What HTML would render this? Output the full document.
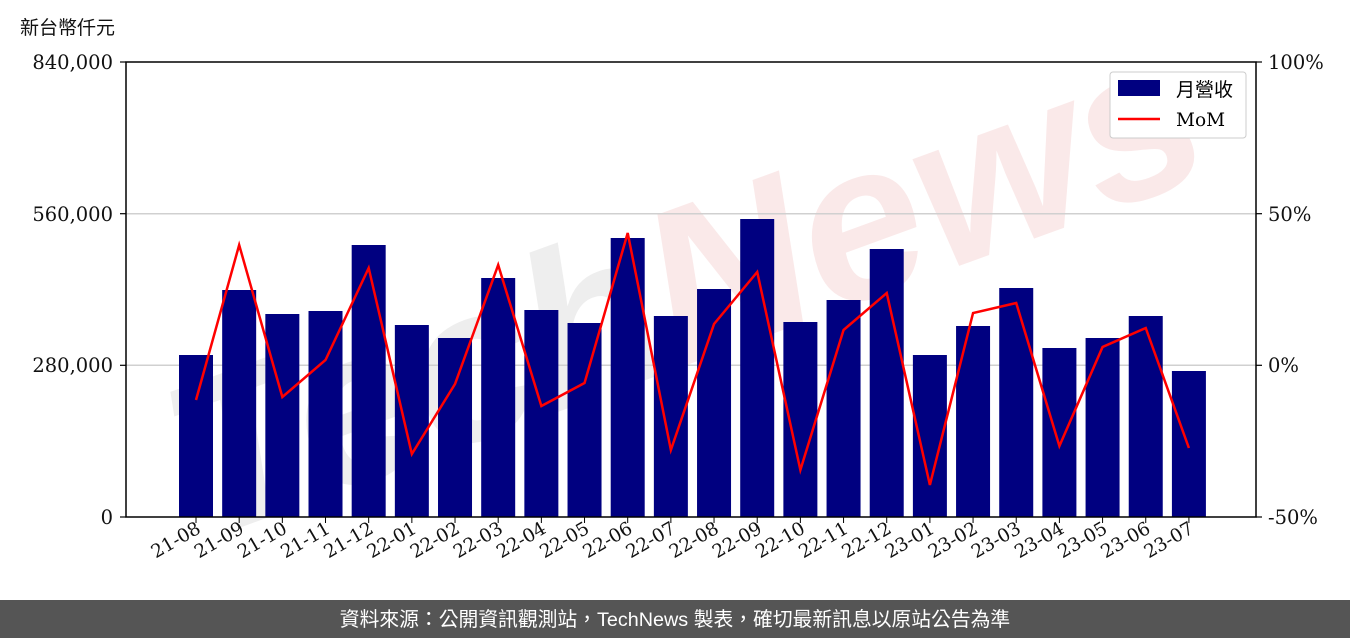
<!DOCTYPE html>
<html><head><meta charset="utf-8"><style>
body{margin:0;width:1350px;height:638px;background:#fff;overflow:hidden;font-family:"DejaVu Serif","Noto Serif CJK SC",serif;}
</style></head><body>
<svg width="1350" height="638" xmlns="http://www.w3.org/2000/svg" style="position:absolute;left:0;top:0">
<text x="20" y="34" font-size="19" font-family="Liberation Sans,Noto Sans CJK TC,sans-serif" fill="#111">新台幣仟元</text>
<g transform="translate(690,300) rotate(-20)" opacity="0.3">
<text x="0" y="60" text-anchor="middle" font-size="220" font-weight="bold" font-family="Liberation Sans,sans-serif" font-style="italic"><tspan fill="#c8c8c8">Tech</tspan><tspan fill="#f0b8b8">News</tspan></text>
</g>
<line x1="126" y1="213.7" x2="1256" y2="213.7" stroke="#d0d0d0" stroke-width="1.5"/>
<line x1="126" y1="365.3" x2="1256" y2="365.3" stroke="#d0d0d0" stroke-width="1.5"/>
<g fill="#000080" id="bars"></g>
<polyline id="mom" fill="none" stroke="#ff0000" stroke-width="2.5" points=""/>
<rect x="126" y="62" width="1130" height="455" fill="none" stroke="#000" stroke-width="1.5"/>
<g font-size="19.5" fill="#111" text-anchor="end">
<text x="113" y="69">840,000</text><text x="113" y="221">560,000</text><text x="113" y="372">280,000</text><text x="113" y="524">0</text>
</g>
<g stroke="#000" stroke-width="1.2">
<line x1="120" y1="62" x2="126" y2="62"/><line x1="120" y1="213.7" x2="126" y2="213.7"/><line x1="120" y1="365.3" x2="126" y2="365.3"/><line x1="120" y1="517" x2="126" y2="517"/>
<line x1="1256" y1="62" x2="1262" y2="62"/><line x1="1256" y1="213.7" x2="1262" y2="213.7"/><line x1="1256" y1="365.3" x2="1262" y2="365.3"/><line x1="1256" y1="517" x2="1262" y2="517"/>
</g>
<g font-size="19.5" fill="#111">
<text x="1268" y="69">100%</text><text x="1268" y="221">50%</text><text x="1268" y="372">0%</text><text x="1268" y="524">-50%</text>
</g>
<g id="xt" font-size="18.5" fill="#111"></g>
<rect x="1110" y="72" width="136" height="66" fill="#fff" stroke="#ccc" rx="3"/>
<rect x="1118" y="80" width="42" height="16" fill="#000080"/>
<text x="1176" y="96" font-size="19" font-family="Liberation Serif,Noto Sans CJK TC,serif">月營收</text>
<line x1="1118" y1="119" x2="1160" y2="119" stroke="#f00" stroke-width="2.5"/>
<text x="1176" y="126" font-size="18.5">MoM</text>
<rect x="0" y="600" width="1350" height="38" fill="#555"/>
<text x="675" y="626" text-anchor="middle" font-size="19.8" fill="#fff" font-family="Liberation Sans,Noto Sans CJK TC,sans-serif">資料來源：公開資訊觀測站，TechNews 製表，確切最新訊息以原站公告為準</text>
</svg>
<script>
var labels=["21-08","21-09","21-10","21-11","21-12","22-01","22-02","22-03","22-04","22-05","22-06","22-07","22-08","22-09","22-10","22-11","22-12","23-01","23-02","23-03","23-04","23-05","23-06","23-07"];
var tops=[355,290,314,311,245,325,338,278,310,323,238,316,289,219,322,300,249,355,326,288,348,338,316,371];
var mom=[400,245,397,360,268,454,384,265,406,383,233,450,324,272,470,330,293,485,313,303,446,347,328,448];
var ns="http://www.w3.org/2000/svg",b=document.getElementById("bars"),xt=document.getElementById("xt"),pts=[];
labels.forEach(function(l,i){var c=196+i*43.17;
var r=document.createElementNS(ns,"rect");r.setAttribute("x",c-17);r.setAttribute("y",tops[i]);r.setAttribute("width",34);r.setAttribute("height",517-tops[i]);b.appendChild(r);
pts.push(c+","+mom[i]);
var t=document.createElementNS(ns,"line");t.setAttribute("x1",c);t.setAttribute("x2",c);t.setAttribute("y1",517);t.setAttribute("y2",523);t.setAttribute("stroke","#000");xt.appendChild(t);
var tx=document.createElementNS(ns,"text");tx.setAttribute("text-anchor","end");tx.setAttribute("transform","translate("+(c+6)+",532) rotate(-30)");tx.textContent=l;xt.appendChild(tx);});
document.getElementById("mom").setAttribute("points",pts.join(" "));
</script>
</body></html>
